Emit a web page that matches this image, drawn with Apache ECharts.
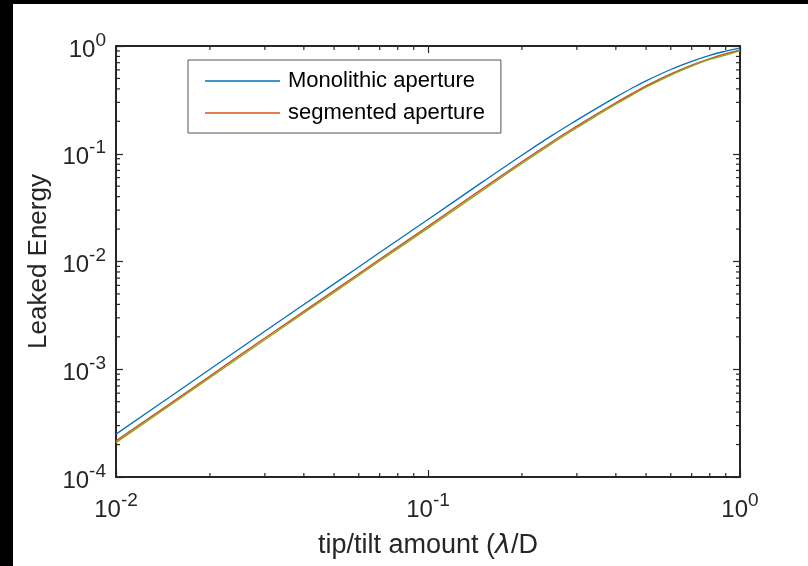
<!DOCTYPE html>
<html>
<head>
<meta charset="utf-8">
<style>
 * { margin: 0; padding: 0; }
 body { background: #000; }
 #container {
   position: absolute;
   left: 13px;
   top: 4px;
   width: 795px;
   height: 562px;
   background: #fff;
 }
</style>
</head>
<body>
<div id="container"></div>
<script src="https://cdn.jsdelivr.net/npm/echarts@6/dist/echarts.min.js"></script>
<script>
    // tip/tilt amount in lambda/D
    var tipTilt = [0.01, 0.015, 0.02, 0.03, 0.05, 0.07, 0.1, 0.15, 0.2, 0.25, 0.3, 0.35, 0.4, 0.45, 0.5, 0.6, 0.7, 0.8, 0.9, 1.0];
    var monolithic = [2.5e-4, 5.62e-4, 1.0e-3, 2.25e-3, 6.2e-3, 1.21e-2, 2.45e-2, 5.51e-2, 0.097, 0.148, 0.205, 0.268, 0.335, 0.405, 0.475, 0.605, 0.72, 0.82, 0.895, 0.955];
    var segmented = [2.16e-4, 4.86e-4, 8.65e-4, 1.95e-3, 5.36e-3, 1.047e-2, 2.12e-2, 4.76e-2, 0.0841, 0.129, 0.180, 0.2365, 0.2967, 0.3605, 0.4257, 0.5497, 0.6635, 0.764, 0.848, 0.9135];
    var thirdCurve = [2.085e-4, 4.69e-4, 8.34e-4, 1.877e-3, 5.17e-3, 1.009e-2, 2.04e-2, 4.58e-2, 0.0811, 0.1245, 0.1743, 0.2288, 0.2878, 0.3499, 0.414, 0.5368, 0.6496, 0.7505, 0.8214, 0.905];

    var xMinorTicks = [0.02, 0.03, 0.04, 0.05, 0.06, 0.07, 0.08, 0.09, 0.2, 0.3, 0.4, 0.5, 0.6, 0.7, 0.8, 0.9];
    var yMinorTicks = [];
    [1e-4, 1e-3, 1e-2, 1e-1].forEach(function (d) {
        for (var k = 2; k <= 9; k++) yMinorTicks.push(k * d);
    });

    var axisColor = '#262626';
    var font = 'Liberation Sans, Arial, sans-serif';

    function pairs(ys) {
        return tipTilt.map(function (x, i) { return [x, ys[i]]; });
    }

    function powLabel(v) {
        var e = Math.round(Math.log(v) / Math.LN10);
        return '{b|10}{s|' + e + '}';
    }

    var labelRich = {
        b: { fontSize: 24, fontFamily: font, color: axisColor, lineHeight: 24, verticalAlign: 'bottom' },
        s: { fontSize: 19, fontFamily: font, color: axisColor, lineHeight: 19, padding: [0, 0, 12, 0], verticalAlign: 'bottom' }
    };

    function tickLine(x1, y1, x2, y2) {
        return { type: 'line', shape: { x1: x1, y1: y1, x2: x2, y2: y2 }, style: { stroke: axisColor, lineWidth: 1.2 } };
    }

    var dom = document.getElementById('container');
    var myChart = echarts.init(dom);

    var option = {
        backgroundColor: '#fff',
        animation: false,
        grid: { left: 103, right: 68, top: 42, bottom: 89 },
        legend: {
            data: ['Monolithic aperture', 'segmented aperture'],
            orient: 'vertical',
            left: 175,
            top: 56,
            icon: 'rect',
            itemWidth: 75,
            itemHeight: 1.3,
            itemGap: 10,
            padding: [10, 16, 9, 17],
            borderColor: '#555',
            borderWidth: 1,
            backgroundColor: '#fff',
            textStyle: { fontSize: 22, fontFamily: font, color: '#000', lineHeight: 22, padding: [0, 0, 0, 3] }
        },
        xAxis: [{
            type: 'log',
            logBase: 10,
            min: 0.01,
            max: 1,
            name: '{t|tip/tilt amount (}{l|λ}{t|/D}',
            nameLocation: 'middle',
            nameGap: 55,
            nameTextStyle: {
                rich: {
                    t: { fontSize: 27, fontFamily: font, color: axisColor },
                    l: { fontSize: 27, fontFamily: 'DejaVu Sans', fontStyle: 'italic', color: axisColor }
                }
            },
            axisLine: { lineStyle: { color: axisColor, width: 2 } },
            axisTick: { inside: true, length: 7, lineStyle: { color: axisColor, width: 1.2 } },
            axisLabel: { margin: 21, formatter: powLabel, rich: labelRich },
            splitLine: { show: false }
        }, {
            type: 'log',
            logBase: 10,
            min: 0.01,
            max: 1,
            position: 'top',
            axisLine: { lineStyle: { color: axisColor, width: 2 } },
            axisTick: { inside: true, length: 7, lineStyle: { color: axisColor, width: 1.2 } },
            axisLabel: { show: false },
            splitLine: { show: false }
        }],
        yAxis: [{
            type: 'log',
            logBase: 10,
            min: 1e-4,
            max: 1,
            name: 'Leaked Energy',
            nameLocation: 'middle',
            nameGap: 64,
            nameTextStyle: { fontSize: 26, fontFamily: font, color: axisColor },
            axisLine: { lineStyle: { color: axisColor, width: 2 } },
            axisTick: { inside: true, length: 7, lineStyle: { color: axisColor, width: 1.2 } },
            axisLabel: { margin: 10, formatter: powLabel, rich: labelRich, padding: [8, 0, 0, 0] },
            splitLine: { show: false }
        }, {
            type: 'log',
            logBase: 10,
            min: 1e-4,
            max: 1,
            position: 'right',
            axisLine: { lineStyle: { color: axisColor, width: 2 } },
            axisTick: { inside: true, length: 7, lineStyle: { color: axisColor, width: 1.2 } },
            axisLabel: { show: false },
            splitLine: { show: false }
        }],
        series: [
            {
                name: 'Monolithic aperture',
                type: 'line',
                smooth: 0.4,
                symbol: 'none',
                data: pairs(monolithic),
                lineStyle: { color: '#0072BD', width: 1.3 },
                itemStyle: { color: '#0072BD' }
            },
            {
                name: 'segmented aperture',
                type: 'line',
                smooth: 0.4,
                symbol: 'none',
                data: pairs(segmented),
                lineStyle: { color: '#D95319', width: 1.5 },
                itemStyle: { color: '#D95319' }
            },
            {
                name: 'third',
                type: 'line',
                smooth: 0.4,
                symbol: 'none',
                data: pairs(thirdCurve),
                lineStyle: { color: '#77AC30', width: 1.3 },
                itemStyle: { color: '#77AC30' }
            },
            {
                // minor ticks along bottom and top
                type: 'custom',
                silent: true,
                clip: false,
                data: xMinorTicks.map(function (v) { return [v, 1e-4]; }),
                renderItem: function (params, api) {
                    var b = api.coord([api.value(0), 1e-4]);
                    var t = api.coord([api.value(0), 1]);
                    return { type: 'group', children: [
                        tickLine(b[0], b[1], b[0], b[1] - 4),
                        tickLine(t[0], t[1], t[0], t[1] + 4)
                    ] };
                }
            },
            {
                // minor ticks along left and right
                type: 'custom',
                silent: true,
                clip: false,
                data: yMinorTicks.map(function (v) { return [0.01, v]; }),
                renderItem: function (params, api) {
                    var l = api.coord([0.01, api.value(1)]);
                    var r = api.coord([1, api.value(1)]);
                    return { type: 'group', children: [
                        tickLine(l[0], l[1], l[0] + 4, l[1]),
                        tickLine(r[0], r[1], r[0] - 4, r[1])
                    ] };
                }
            }
        ]
    };

    myChart.setOption(option);
</script>
</body>
</html>
